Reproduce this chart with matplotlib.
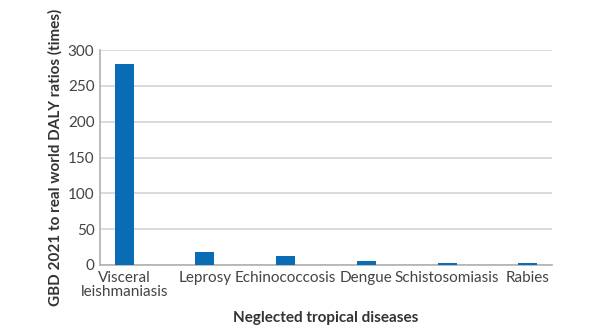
import matplotlib
matplotlib.use("Agg")
import matplotlib.pyplot as plt

plt.rcParams['font.family'] = ['Lato', 'DejaVu Sans']

diseases = ["Visceral\nleishmaniasis", "Leprosy", "Echinococcosis", "Dengue",
            "Schistosomiasis", "Rabies"]
ratios = [281, 18, 12.5, 5.5, 3, 3]
yticks = [0, 50, 100, 150, 200, 250, 300]

fig = plt.figure(figsize=(5.9, 3.31), dpi=100)
ax = fig.add_axes([100/590, 1-265/331, 452/590, 215/331])

x = range(len(diseases))
ax.bar(x, ratios, width=0.236, color="#0a6cb5", zorder=3)

ax.set_xlim(-0.3, len(diseases) - 0.7)
ax.set_ylim(0, 300)
ax.set_yticks(yticks)
ax.set_xticks(list(x))
ax.set_xticklabels(diseases, fontsize=11, color="#444444", linespacing=1.0)
ax.tick_params(axis='y', labelsize=11, labelcolor="#444444", length=0, pad=4)
ax.tick_params(axis='x', length=0, pad=4)
for lbl in ax.get_yticklabels():
    lbl.set_verticalalignment("center_baseline")
ax.yaxis.grid(True, color="#d4d4d4", linewidth=1.2, zorder=0)
ax.set_axisbelow(True)
for side in ["top", "right"]:
    ax.spines[side].set_visible(False)
for side in ["left", "bottom"]:
    ax.spines[side].set_color("#b0b0b0")
    ax.spines[side].set_linewidth(1.2)

ax.set_ylabel("GBD 2021 to real world DALY ratios (times)", fontsize=11,
              fontweight="bold", color="#333333", labelpad=4)
ax.set_xlabel("Neglected tropical diseases", fontsize=11, fontweight="bold",
              color="#333333", labelpad=9)

fig.savefig("out.png", dpi=100)
